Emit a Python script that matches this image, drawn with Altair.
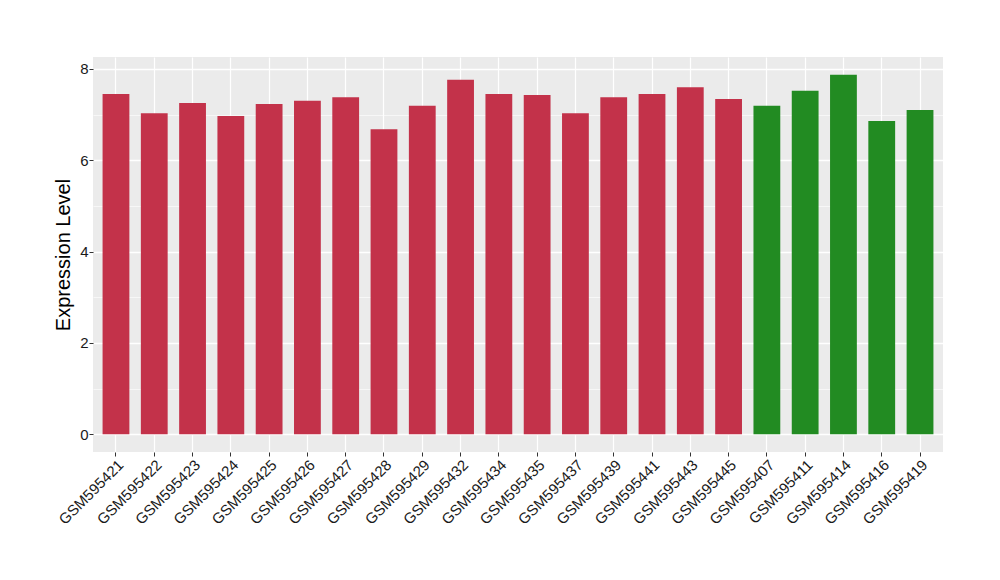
import altair as alt
import pandas as pd

samples = ["GSM595421", "GSM595422", "GSM595423", "GSM595424", "GSM595425", "GSM595426",
           "GSM595427", "GSM595428", "GSM595429", "GSM595432", "GSM595434", "GSM595435",
           "GSM595437", "GSM595439", "GSM595441", "GSM595443", "GSM595445", "GSM595407",
           "GSM595411", "GSM595414", "GSM595416", "GSM595419"]
values = [7.45, 7.03, 7.25, 6.97, 7.23, 7.30, 7.38, 6.68, 7.19, 7.76, 7.45, 7.43,
          7.03, 7.38, 7.45, 7.60, 7.34, 7.19, 7.52, 7.87, 6.86, 7.10]
groups = ["A"] * 17 + ["B"] * 5
group_domain = ["A", "B"]
group_colors = ["#C3324A", "#228B22"]

df = pd.DataFrame({"sample": samples, "value": values, "group": groups})

chart = alt.Chart(df).mark_bar().encode(
    x=alt.X("sample:N", sort=None, title=None,
            scale=alt.Scale(paddingInner=0.3, paddingOuter=0.25),
            axis=alt.Axis(labelAngle=-45, labelAlign="right", labelBaseline="top",
                          labelFontSize=15, labelColor="#1a1a1a", labelPadding=1,
                          tickSize=4, tickColor="#333333", domain=False,
                          grid=True, gridColor="white", gridWidth=1.2, bandPosition=0.5,
                          labelFont="Liberation Sans")),
    y=alt.Y("value:Q", title="Expression Level",
            scale=alt.Scale(domain=[-0.39, 8.26], nice=False, zero=False),
            axis=alt.Axis(values=[0, 1, 2, 3, 4, 5, 6, 7, 8],
                          labelExpr="datum.value % 2 === 0 ? datum.label : ''",
                          tickOpacity={"condition": {"test": "datum.value % 2 === 0", "value": 1}, "value": 0},
                          gridWidth={"condition": {"test": "datum.value % 2 === 0", "value": 1.3}, "value": 0.6},
                          gridColor="white", tickSize=4, tickColor="#333333", domain=False,
                          labelFontSize=15, labelColor="#1a1a1a", labelPadding=1,
                          labelFont="Liberation Sans",
                          titleFont="Liberation Sans", titleFontSize=20, titleFontWeight="normal",
                          titleColor="black", titlePadding=6)),
    color=alt.Color("group:N", scale=alt.Scale(domain=group_domain, range=group_colors), legend=None),
).properties(
    width=850, height=395,
    autosize=alt.AutoSizeParams(type="none"),
    padding={"left": 85, "top": 49, "right": 49, "bottom": 120},
).configure_view(
    fill="#EBEBEB", stroke=None
)

chart.save("out.html", embed_options={"renderer": "svg", "actions": False})
